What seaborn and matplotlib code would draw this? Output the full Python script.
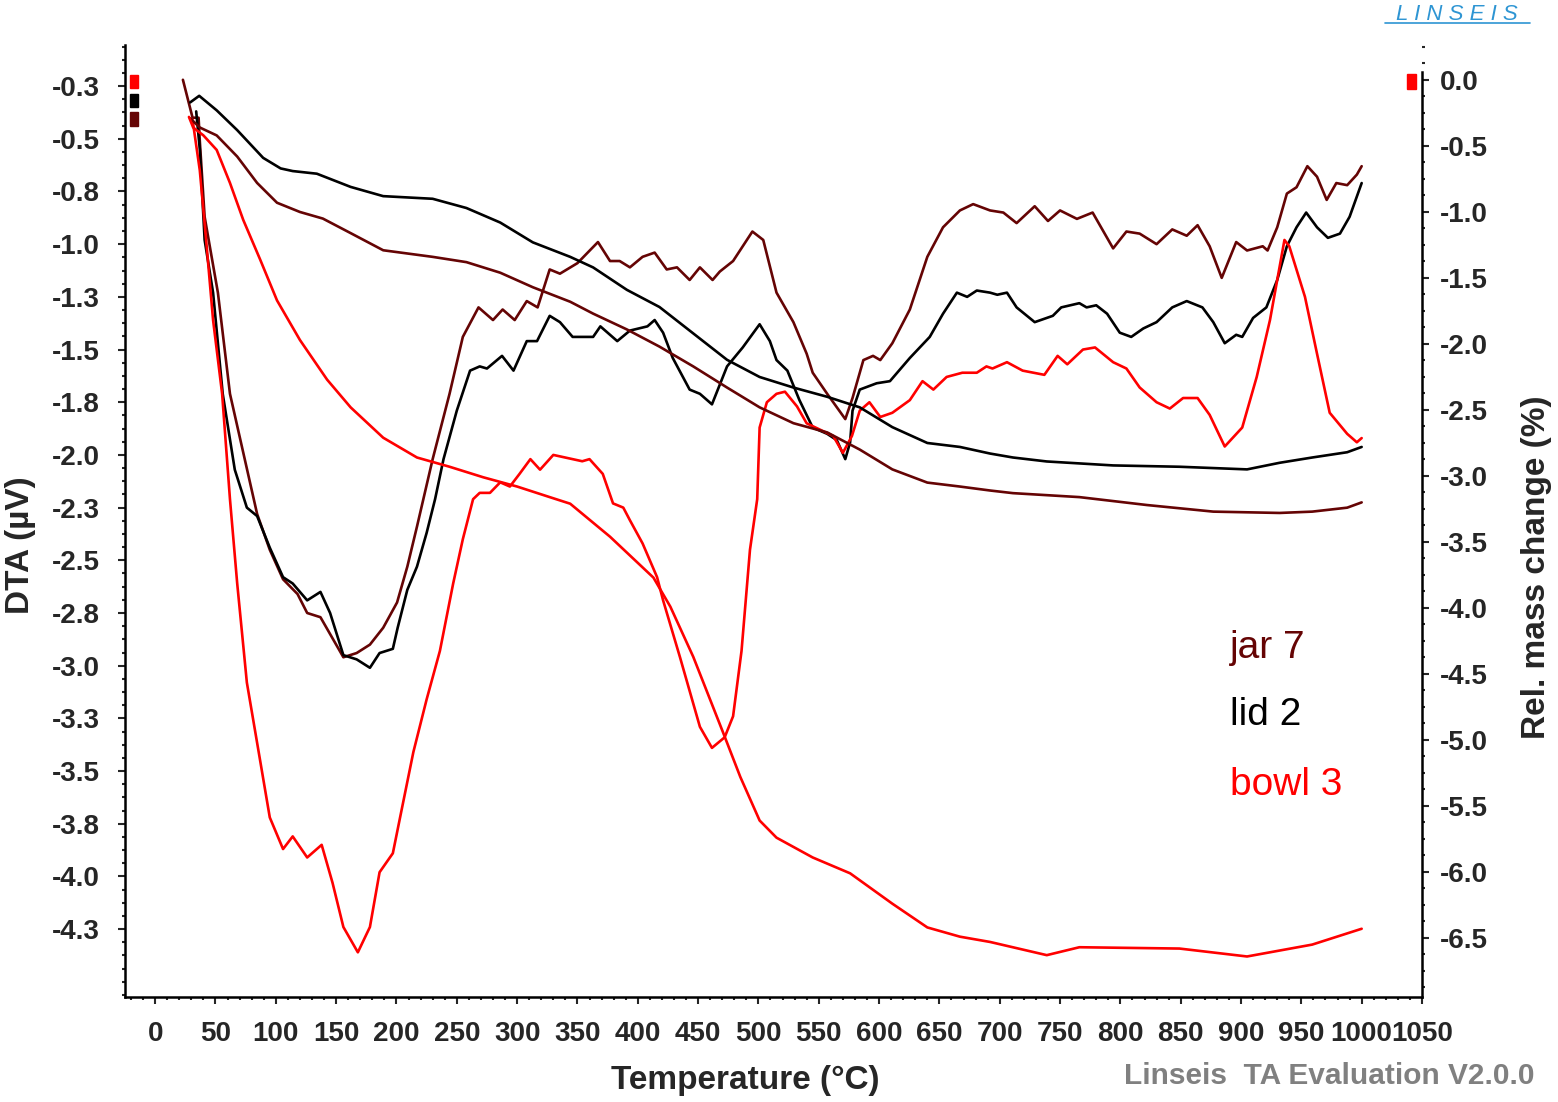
import matplotlib
matplotlib.use("Agg")
import matplotlib.pyplot as plt
import seaborn as sns
import pandas as pd
from matplotlib.ticker import MultipleLocator
from matplotlib.patches import Rectangle
from matplotlib.lines import Line2D

sns.set_style("white")
plt.rcParams['font.family'] = ['Liberation Sans', 'DejaVu Sans']

# ---------------- data ----------------
# TG (right axis, Rel. mass change %)
lid2_tg_T = [29, 36.5, 51, 68, 89.5, 104, 114, 134, 162, 189, 230, 258, 286, 313, 344, 363, 391, 418, 446, 474,
             501, 529, 557, 584, 611, 640, 667, 692, 711, 739, 794, 849, 905, 932, 959, 988, 1000]
lid2_tg_m = [-0.17, -0.12, -0.23, -0.38, -0.59, -0.67, -0.69, -0.71, -0.81, -0.88, -0.90, -0.97, -1.08, -1.23,
             -1.34, -1.42, -1.59, -1.72, -1.92, -2.12, -2.25, -2.33, -2.40, -2.48, -2.63, -2.75, -2.78, -2.83,
             -2.86, -2.89, -2.92, -2.93, -2.95, -2.90, -2.86, -2.82, -2.78]

jar7_tg_T = [29, 37, 51, 68, 84.5, 101, 120, 139, 162, 189, 230, 258, 286, 313, 344, 363, 391, 418, 446, 474,
             501, 529, 557, 584, 611, 640, 667, 692, 711, 766, 822, 877, 932, 959, 988, 1000]
jar7_tg_m = [-0.29, -0.36, -0.42, -0.58, -0.78, -0.93, -1.00, -1.05, -1.16, -1.29, -1.34, -1.38, -1.46, -1.57,
             -1.68, -1.77, -1.89, -2.02, -2.17, -2.33, -2.48, -2.60, -2.67, -2.80, -2.95, -3.05, -3.08, -3.11,
             -3.13, -3.16, -3.22, -3.27, -3.28, -3.27, -3.24, -3.20]

bowl3_tg_T = [28, 31.5, 40, 51, 62, 73, 87, 101, 120, 142.5, 162, 189, 217, 244, 272, 300, 327, 344, 377, 413,
              427, 446, 471, 485, 501, 515, 545, 576, 611, 640, 667, 692, 739, 766, 849, 905, 959, 1000]
bowl3_tg_m = [-0.28, -0.36, -0.42, -0.53, -0.78, -1.06, -1.36, -1.67, -1.97, -2.27, -2.48, -2.71, -2.86, -2.93,
              -3.01, -3.08, -3.16, -3.21, -3.46, -3.77, -3.99, -4.37, -4.95, -5.28, -5.61, -5.74, -5.89, -6.01,
              -6.24, -6.42, -6.49, -6.53, -6.63, -6.57, -6.58, -6.64, -6.55, -6.43]

# DTA (left axis, µV)
jar7_dta_T = [23, 31, 36, 37, 41, 52, 62, 84.5, 95, 106, 118, 126, 137, 145, 156, 167, 178, 189, 200.5, 209,
              217, 230, 244, 255, 268, 280, 288, 298, 308, 317, 327, 335.5, 350, 367, 377, 385, 393.5, 404, 414,
              424, 432.5, 443, 451.5, 462, 468, 479, 487, 495, 504, 515, 529, 540, 545, 557, 572, 578, 587, 595,
              601, 611, 625.5, 640, 653, 667, 678, 692, 703, 714, 729, 740, 750, 764, 777, 794, 805, 816, 830,
              843, 855, 864, 874, 884, 896, 905, 918, 922, 930, 938, 946, 955, 963, 971, 979, 988, 996, 1000]
jar7_dta_v = [-0.22, -0.40, -0.40, -0.51, -0.87, -1.23, -1.71, -2.28, -2.45, -2.59, -2.66, -2.75, -2.77, -2.85,
              -2.96, -2.94, -2.90, -2.82, -2.70, -2.53, -2.34, -2.02, -1.71, -1.44, -1.30, -1.36, -1.31, -1.36,
              -1.27, -1.30, -1.12, -1.14, -1.09, -0.99, -1.08, -1.08, -1.11, -1.06, -1.04, -1.12, -1.11, -1.17,
              -1.11, -1.17, -1.13, -1.08, -1.01, -0.94, -0.98, -1.23, -1.37, -1.52, -1.61, -1.71, -1.83, -1.73,
              -1.55, -1.53, -1.55, -1.47, -1.31, -1.06, -0.92, -0.84, -0.81, -0.84, -0.85, -0.90, -0.82, -0.89,
              -0.84, -0.88, -0.85, -1.02, -0.94, -0.95, -1.00, -0.93, -0.96, -0.91, -1.01, -1.16, -0.99, -1.03,
              -1.01, -1.03, -0.92, -0.76, -0.73, -0.63, -0.68, -0.79, -0.71, -0.72, -0.67, -0.63]

lid2_dta_T = [34, 37, 41, 48, 56, 66, 76, 84.5, 95, 106, 114, 126, 137, 145, 156, 167, 178, 186, 197, 201, 209,
              217, 225, 232, 239, 250, 261, 269, 275, 287.5, 297, 308, 316.5, 327, 335.5, 346, 363, 369, 383,
              393.5, 408, 414, 421, 429, 443, 451.5, 461.5, 474, 487, 501, 509.5, 515, 524, 534, 545, 557, 565,
              572, 576, 578, 584, 598, 609, 625.5, 642, 653, 664.5, 673, 681, 692, 698, 706, 714, 729, 744, 751,
              766, 772, 780, 789, 799.5, 809, 819, 830, 843, 855, 868, 877, 886.5, 896, 901, 910, 921, 930, 938,
              946, 954, 963, 972, 982, 990, 1000]
lid2_dta_v = [-0.37, -0.55, -0.98, -1.23, -1.71, -2.07, -2.25, -2.29, -2.44, -2.58, -2.61, -2.69, -2.65, -2.75,
              -2.95, -2.97, -3.01, -2.94, -2.92, -2.82, -2.64, -2.53, -2.37, -2.21, -2.02, -1.79, -1.60, -1.58,
              -1.59, -1.53, -1.60, -1.46, -1.46, -1.34, -1.37, -1.44, -1.44, -1.39, -1.46, -1.41, -1.39, -1.36,
              -1.42, -1.54, -1.69, -1.71, -1.76, -1.58, -1.49, -1.38, -1.46, -1.55, -1.60, -1.74, -1.87, -1.90,
              -1.93, -2.02, -1.94, -1.79, -1.69, -1.66, -1.65, -1.54, -1.44, -1.33, -1.23, -1.25, -1.22, -1.23,
              -1.24, -1.23, -1.30, -1.37, -1.34, -1.30, -1.28, -1.30, -1.29, -1.33, -1.42, -1.44, -1.40, -1.37,
              -1.30, -1.27, -1.30, -1.37, -1.47, -1.43, -1.44, -1.35, -1.30, -1.17, -1.01, -0.92, -0.85, -0.92,
              -0.97, -0.95, -0.87, -0.71]

bowl3_dta_T = [31, 37, 43, 48, 55.5, 62, 68, 76, 87, 95, 106, 114, 126, 138, 147, 156, 168, 178, 186, 197, 203,
               214, 225, 236, 247, 255, 263.5, 269, 277.5, 286, 294, 302, 311, 319, 330, 346, 354, 360, 371,
               379.5, 388, 393.5, 404, 416, 421, 435, 451.5, 461.5, 472, 479, 486, 493, 499, 501, 507, 515, 522,
               532, 540, 551, 562, 570, 577.5, 584, 592, 601, 611, 625.5, 636, 645, 656, 669, 681, 689, 694, 706,
               719, 737, 748, 756, 769, 779, 794, 805, 816, 830, 841, 852, 864, 874, 886.5, 901, 913, 924, 936,
               940, 953, 963, 973.5, 988, 996, 1000]
bowl3_dta_v = [-0.41, -0.65, -1.03, -1.36, -1.71, -2.21, -2.61, -3.08, -3.45, -3.72, -3.87, -3.81, -3.91, -3.85,
               -4.03, -4.24, -4.36, -4.24, -3.98, -3.89, -3.72, -3.41, -3.16, -2.93, -2.61, -2.40, -2.21, -2.18,
               -2.18, -2.13, -2.15, -2.09, -2.02, -2.07, -2.00, -2.02, -2.03, -2.02, -2.09, -2.23, -2.25, -2.31,
               -2.42, -2.58, -2.69, -2.96, -3.29, -3.39, -3.34, -3.24, -2.93, -2.45, -2.21, -1.87, -1.75, -1.71,
               -1.70, -1.77, -1.85, -1.88, -1.91, -1.99, -1.91, -1.79, -1.75, -1.82, -1.80, -1.74, -1.65, -1.69,
               -1.63, -1.61, -1.61, -1.58, -1.59, -1.56, -1.60, -1.62, -1.53, -1.57, -1.50, -1.49, -1.56, -1.59,
               -1.68, -1.75, -1.78, -1.73, -1.73, -1.81, -1.96, -1.87, -1.63, -1.36, -0.98, -1.01, -1.25, -1.52,
               -1.80, -1.90, -1.94, -1.92]

x_ticks = list(range(0, 1051, 50))
x_tick_labels = [str(t) for t in x_ticks]
dta_ticks = [-0.25 * k for k in range(1, 18)]
dta_tick_labels = ["-0.3", "-0.5", "-0.8", "-1.0", "-1.3", "-1.5", "-1.8", "-2.0", "-2.3", "-2.5",
                   "-2.8", "-3.0", "-3.3", "-3.5", "-3.8", "-4.0", "-4.3"]
tg_ticks = [-0.5 * k for k in range(0, 14)]
tg_tick_labels = ["0.0", "-0.5", "-1.0", "-1.5", "-2.0", "-2.5", "-3.0", "-3.5", "-4.0", "-4.5",
                  "-5.0", "-5.5", "-6.0", "-6.5"]

series_names = ["jar 7", "lid 2", "bowl 3"]
DARKRED = "#650404"
RED = "#ff0000"
BLACK = "#000000"
colors = {"jar 7": DARKRED, "lid 2": BLACK, "bowl 3": RED}

# ---------------- figure ----------------
W, H = 1558, 1102
fig = plt.figure(figsize=(W / 100, H / 100), dpi=100)
fig.patch.set_facecolor("white")
L, R, B, T = 125, 1422, 997, 45
ax = fig.add_axes([L / W, 1 - B / H, (R - L) / W, (B - T) / H])
ax2 = ax.twinx()

lw = 1.9
dta = [("jar 7", jar7_dta_T, jar7_dta_v), ("lid 2", lid2_dta_T, lid2_dta_v), ("bowl 3", bowl3_dta_T, bowl3_dta_v)]
tg = [("jar 7", jar7_tg_T, jar7_tg_m), ("lid 2", lid2_tg_T, lid2_tg_m), ("bowl 3", bowl3_tg_T, bowl3_tg_m)]

for name, xs, ys in dta:
    df = pd.DataFrame({"T": xs, "v": ys})
    sns.lineplot(data=df, x="T", y="v", ax=ax, color=colors[name], lw=lw, sort=False, estimator=None, legend=False)
for name, xs, ys in tg:
    df = pd.DataFrame({"T": xs, "m": ys})
    sns.lineplot(data=df, x="T", y="m", ax=ax2, color=colors[name], lw=lw, sort=False, estimator=None, legend=False)

ax.set_xlim(-25, 1050)
ax.set_ylim(-4.572, -0.055)
ax2.set_ylim(-6.947, 0.265)

# ticks
ax.set_xticks(x_ticks)
ax.set_xticklabels(x_tick_labels, fontsize=20, fontweight="bold")
ax.xaxis.set_minor_locator(MultipleLocator(10))
ax.set_yticks(dta_ticks)
ax.set_yticklabels(dta_tick_labels, fontsize=20, fontweight="bold")
ax.yaxis.set_minor_locator(MultipleLocator(0.0625))
ax2.set_yticks(tg_ticks)
ax2.set_yticklabels(tg_tick_labels, fontsize=20, fontweight="bold")
ax2.yaxis.set_minor_locator(MultipleLocator(0.125))

ax.tick_params(axis="x", which="major", direction="out", length=5, width=1.5, pad=12, bottom=True)
ax.tick_params(axis="x", which="minor", direction="out", length=2.5, width=1.5, bottom=True)
ax.tick_params(axis="y", which="major", direction="out", length=5, width=1.5, pad=13, left=True)
ax.tick_params(axis="y", which="minor", direction="out", length=2.5, width=1.5, left=True)
ax2.tick_params(axis="y", which="major", direction="out", length=5, width=1.5, pad=8, right=True)
ax2.tick_params(axis="y", which="minor", direction="out", length=2.5, width=1.5, right=True)

for a in (ax, ax2):
    a.grid(False)
    a.spines["top"].set_visible(False)
ax.spines["right"].set_visible(False)
ax2.spines["left"].set_visible(False)
ax2.spines["bottom"].set_visible(False)
for s in ("left", "bottom"):
    ax.spines[s].set_color("black")
    ax.spines[s].set_linewidth(1.8)
ax2.spines["right"].set_color("black")
ax2.spines["right"].set_linewidth(1.8)
ax2.spines["right"].set_bounds(-6.947, 0.06)

# axis labels (centred on their reference positions)
ax.set_xlabel("Temperature (°C)", fontsize=24, fontweight="bold", va="center", ha="center")
ax.xaxis.set_label_coords((745 - L) / (R - L), (B - 1080) / (B - T))
ax.set_ylabel("DTA (µV)", fontsize=24, fontweight="bold", va="center", ha="center")
ax.yaxis.set_label_coords((21 - L) / (R - L), (B - 545) / (B - T))
ax2.set_ylabel("Rel. mass change (%)", fontsize=24, fontweight="bold", va="center", ha="center")
ax2.yaxis.set_label_coords((1537 - L) / (R - L), (B - 567) / (B - T))

# legend-like texts
for name, yb in zip(series_names, [658, 725, 795]):
    fig.text(1230 / W, 1 - yb / H, name, fontsize=28, color=colors[name], ha="left", va="baseline")

# axis curve markers
def rect(x0, y0, x1, y1, c):
    fig.patches.append(Rectangle((x0 / W, 1 - y1 / H), (x1 - x0) / W, (y1 - y0) / H,
                                 transform=fig.transFigure, color=c, zorder=5))
rect(130, 75, 138, 88, RED)
rect(130, 94, 138, 107, BLACK)
rect(130, 112, 138, 126, DARKRED)
rect(1407, 74, 1416, 89, RED)

# branding
fig.text(1535 / W, 1 - 1084 / H, "Linseis  TA Evaluation V2.0.0", fontsize=21.5, fontweight="bold",
         color="#808080", ha="right", va="baseline")
fig.text(1457 / W, 1 - 20 / H, "L I N S E I S", fontsize=16, fontstyle="italic", color="#2e95d3",
         ha="center", va="baseline")
fig.add_artist(Line2D([1385 / W, 1530 / W], [1 - 23 / H, 1 - 23 / H], color="#2e95d3", lw=1.2,
                      transform=fig.transFigure))

fig.savefig("out.png", dpi=100, facecolor="white")
